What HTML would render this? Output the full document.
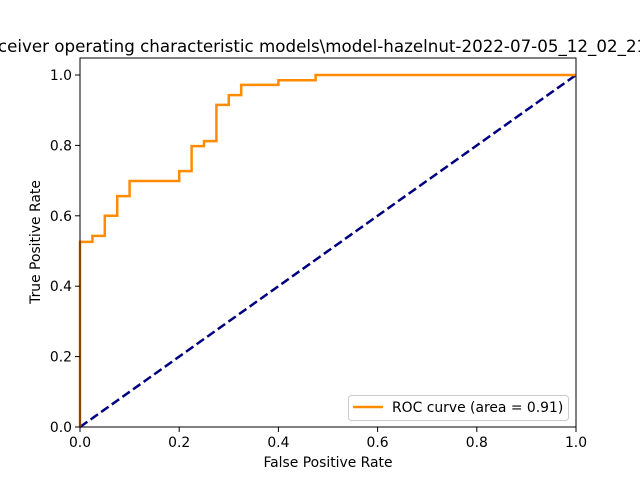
<!DOCTYPE html>
<html><head><meta charset="utf-8"><style>body{margin:0;background:#fff}svg{display:block;font-family:"DejaVu Sans","Liberation Sans",sans-serif}</style></head>
<body>
<svg id="chart" width="640" height="480" xmlns="http://www.w3.org/2000/svg">
<rect width="640" height="480" fill="#fff"/>
<text x="312" y="52" text-anchor="middle" font-size="16.7">Receiver operating characteristic models\model-hazelnut-2022-07-05_12_02_21</text>
<g id="plot"></g>
</svg>
<script>
const fpr=[0,0,0.025,0.025,0.05,0.05,0.075,0.075,0.1,0.1,0.2,0.2,0.225,0.225,0.25,0.25,0.275,0.275,0.3,0.3,0.325,0.325,0.4,0.4,0.475,0.475,1];
const tpr=[0,0.526,0.526,0.543,0.543,0.6,0.6,0.656,0.656,0.699,0.699,0.727,0.727,0.798,0.798,0.812,0.812,0.915,0.915,0.943,0.943,0.972,0.972,0.985,0.985,1,1];
const ticks=[0,0.2,0.4,0.6,0.8,1.0];
const tickLabels=["0.0","0.2","0.4","0.6","0.8","1.0"];
const L=80,R=576,T=58,B=427;
const xs=v=>L+v*(R-L);
const ys=v=>B-v*(B-75)/1.0;
const NS="http://www.w3.org/2000/svg";
const g=document.getElementById('plot');
function mk(t,a){const e=document.createElementNS(NS,t);for(const k in a)e.setAttribute(k,a[k]);g.appendChild(e);return e;}
let d=fpr.map((v,i)=>(i?'L':'M')+xs(v)+','+ys(tpr[i])).join('');
let diag=mk('line',{x1:xs(0),y1:ys(0),x2:xs(1),y2:ys(1),stroke:'#000080','stroke-width':2.5,'stroke-dasharray':'9,4'});


let roc=mk('path',{d:d,fill:'none',stroke:'#ff8c00','stroke-width':2.5});


let fr=mk('rect',{x:L,y:T,width:R-L,height:B-T,fill:'none',stroke:'#000','stroke-width':1});


ticks.forEach((t,i)=>{
 let a=mk('line',{x1:xs(t),y1:B,x2:xs(t),y2:B+5,stroke:'#000','stroke-width':1});
 
 
 let tx=mk('text',{x:xs(t),y:B+20,'text-anchor':'middle','font-size':13.9});tx.textContent=tickLabels[i];
 
 
 let b=mk('line',{x1:L-5,y1:ys(t),x2:L,y2:ys(t),stroke:'#000','stroke-width':1});
 
 
 let ty=mk('text',{x:L-8,y:ys(t)+5,'text-anchor':'end','font-size':13.9});ty.textContent=tickLabels[i];
 
 
});
let xl=mk('text',{x:328,y:467,'text-anchor':'middle','font-size':13.9});xl.textContent='False Positive Rate';


let yl=mk('text',{x:0,y:0,'text-anchor':'middle','font-size':13.9,transform:'translate(40,242) rotate(-90)'});yl.textContent='True Positive Rate';


let lg=mk('rect',{x:348.5,y:395.5,width:220,height:25,rx:3,fill:'#fff','fill-opacity':0.8,stroke:'#ccc','stroke-width':1});


let ll=mk('line',{x1:353,y1:407,x2:383,y2:407,stroke:'#ff8c00','stroke-width':2.5});


let lt=mk('text',{x:392,y:412,'font-size':13.9});lt.textContent='ROC curve (area = 0.91)';


</script>
</body></html>
